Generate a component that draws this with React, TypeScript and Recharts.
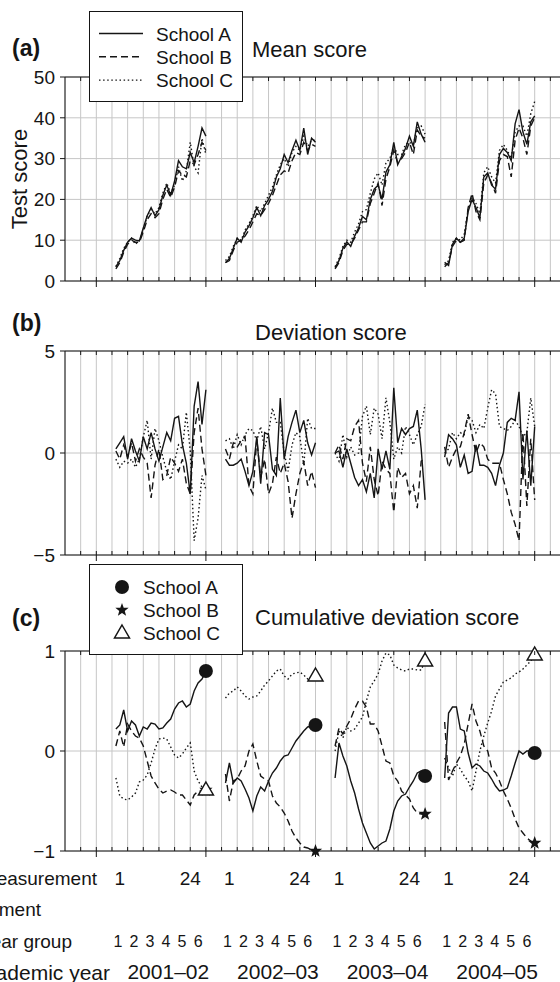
import React from 'react';
import { CartesianGrid, Label, Line, LineChart, XAxis, YAxis } from 'recharts';

const schools = ['School A', 'School B', 'School C'];
const academicYears = ['2001–02', '2002–03', '2003–04', '2004–05'];
const measurementLabels = ['1', '24'];
const yearGroups = ['1', '2', '3', '4', '5', '6'];

// (a) mean score, 24 measurements per academic year
const meanA = [
  3.5, 5, 7.5, 9.5, 10.5, 10, 9.8, 13, 16, 18, 16, 17.5, 21, 23.5, 21, 24.5, 29.5, 28, 27.5, 31.5, 29, 33, 37.5, 35.5,
  4.5, 5.5, 8, 10.5, 9.5, 12, 13.5, 15.5, 18, 16, 18.5, 20, 22, 25.5, 27.5, 31, 29, 32, 34.5, 32, 37.5, 31, 35, 34,
  3.3, 5, 8, 9.6, 8.5, 11, 13, 15.8, 15, 20, 22.5, 23.5, 20, 26.7, 28.5, 34, 28.5, 30.5, 32.5, 35.5, 33, 39, 36, 34,
  4.6, 3.8, 9, 10.5, 9.5, 10.5, 17, 20, 18, 15.5, 25.5, 26.5, 23.5, 22.5, 31, 32.5, 31.5, 29.5, 38.5, 42, 36.5, 33.5, 39, 40.5,
];
const meanB = [
  3, 4.5, 7, 9, 10, 9.5, 9.5, 12, 15, 16.5, 15.5, 16.5, 20, 22.5, 20.5, 23, 27, 26, 25.5, 29.5, 28.5, 31, 34, 32,
  4.5, 5, 7.5, 9.5, 10, 11, 12.5, 14.5, 16.5, 16, 17.5, 19, 21, 23.5, 26, 27, 26.5, 29.5, 31.5, 31, 34, 32, 33.5, 33,
  3, 4.5, 7.5, 9, 9, 10.5, 12.5, 14.5, 14.5, 19, 21.5, 24, 18.5, 25, 28, 32, 29, 30, 31.5, 34, 31, 37, 35.5, 35,
  3.5, 4.5, 8.5, 10, 9.5, 10, 18, 21.5, 17, 15, 24, 26, 24, 21.5, 29.5, 31, 30.5, 25.5, 34.5, 37.5, 35, 31, 38, 40,
];
const meanC = [
  3.5, 5.5, 8, 9.5, 10.5, 9, 10, 12.5, 16, 17.5, 16.5, 18, 21.5, 24, 21.5, 23.5, 28, 24.5, 27, 34, 28, 26.5, 35, 31,
  5, 6, 8.5, 10.5, 10, 12.5, 14, 16, 18.5, 17, 19, 21, 23, 26, 28.5, 30, 28, 31.5, 33, 32, 35.5, 33, 34.5, 34.5,
  3.5, 5.5, 8.5, 10, 9.5, 12, 14, 17, 17.5, 21.5, 25, 26.5, 23.5, 29, 30, 33, 31, 31, 33.5, 34, 33.5, 37.5, 38, 36,
  4, 5, 9.5, 10.5, 10, 11.5, 17.5, 20.5, 19, 16.5, 26.5, 28, 25.5, 24, 32, 33.5, 32, 30, 36.5, 38, 38, 35.5, 41, 44,
];

// (b) deviation score
const devA = [
  0.2, 0.5, 0.8, -0.3, 0.7, 0.1, -0.4, 0.8, 0.2, 1.0, 0.2, -0.4, 0.3, 1.0, 0.6, 1.7, 1.8, 0.4, -0.5, -2.0, 2.3, 3.5, 1.4, 3.1,
  -0.3, -0.6, -0.6, -0.5, -0.3, -0.9, -1.6, -0.9, 0.8, -1.5, 1.0, 0.9, -0.8, -1.1, 2.7, -0.3, 0.8, 1.5, 2.1, 1.0, 1.6, 0.5, -0.1, 0.5,
  0.0, 0.1, -0.7, 0.2, -0.5, -1.2, -1.6, -1.3, -1.9, -1.0, -2.2, 0.2, -0.8, 0.1, -0.8, 3.2, 0.5, 1.2, 0.9, 1.2, 1.3, 2.1, 0.2, -2.3,
  -0.2, 0.9, 0.7, 0.4, -0.7, -0.1, -1.0, -0.9, 0.4, -0.6, -0.6, -0.7, -1.0, -1.6, -0.6, 0.0, 1.5, 1.7, 1.6, 3.0, -1.3, 1.1, -1.6, 1.3,
];
const devB = [
  0.1, -0.3, 0.4, -0.2, 0.5, -0.4, 0.2, -0.2, -0.5, -2.2, -0.6, 0.2, -1.3, -1.1, -0.2, -0.5, -0.9, -0.3, -1.5, -2.0, 1.0, 2.2, 0.2, -1.1,
  0.2, -0.3, 0.5, 0.3, 0.6, 0.8, -1.6, -2.0, 0.7, -1.2, -0.3, -2.0, -1.5, -0.2, -1.0, -0.5, -1.4, -3.2, -2.0, -1.0, -0.4, -1.6, -0.9, -1.7,
  0.0, 0.4, -0.3, 0.7, 0.6, 1.3, 1.6, -0.5, -1.4, 0.3, -1.3, -2.1, -0.4, -0.8, -1.0, -2.9, -0.7, -1.2, -1.0, -2.0, -1.6, -2.7, -0.4, -0.3,
  0.3, -0.7, -0.2, 0.2, 0.3, 1.0, 1.9, 0.9, 0.0, 0.5, 0.3, -0.3, -0.5, -0.5, -0.5, -1.3, -2.0, -2.9, -3.5, -4.3, 1.0, -2.6, 0.7, -2.3,
];
const devC = [
  -0.3, -0.7, -0.4, -0.5, -0.3, -0.7, -0.3, 0.8, 1.6, -0.3, 1.2, 0.6, -0.2, -0.9, -1.3, -0.4, 0.4, 0.2, 2.0, 0.1, -4.3, -3.2, -1.1, -1.8,
  0.6, 0.7, 0.2, 0.9, 0.4, 0.9, 1.2, 1.1, 0.6, 1.3, 0.2, 1.0, 2.2, 1.5, 1.5, 0.0, -0.9, 0.4, 1.0, 0.8, -0.6, 1.7, 1.2, 1.2,
  0.0, -0.4, 0.9, -0.2, 0.3, -0.1, 0.0, 1.8, 2.3, 0.9, 2.2, 1.9, 0.7, 2.7, 1.5, -0.3, 0.3, 0.0, 1.3, 0.9, 0.4, 0.9, 1.3, 2.4,
  0.0, 0.2, 1.0, 0.7, 1.0, 0.9, 1.8, 1.6, 1.0, 1.4, 1.2, 2.2, 3.1, 2.9, 1.3, 1.2, 1.1, 1.3, 1.6, 1.3, 0.8, 1.0, 2.7, 1.3,
];

// (c) cumulative deviation score
const cumA = [
  0.22, 0.26, 0.41, 0.2, 0.3, 0.26, 0.15, 0.24, 0.22, 0.28, 0.27, 0.22, 0.23, 0.28, 0.32, 0.42, 0.48, 0.5, 0.44, 0.47, 0.6, 0.68, 0.72, 0.8,
  -0.32, -0.12, -0.32, -0.27, -0.3, -0.38, -0.47, -0.6, -0.45, -0.36, -0.4, -0.3, -0.22, -0.17, -0.1, -0.05, -0.04, 0.03, 0.1, 0.15, 0.2, 0.24, 0.25, 0.26,
  -0.27, 0.08, -0.05, -0.15, -0.3, -0.42, -0.58, -0.72, -0.82, -0.92, -0.98, -0.95, -0.92, -0.9, -0.78, -0.6, -0.5, -0.45, -0.43, -0.36, -0.3, -0.22, -0.2, -0.25,
  -0.27, 0.38, 0.44, 0.44, 0.22, 0.2, -0.02, -0.17, -0.13, -0.15, -0.2, -0.22, -0.28, -0.35, -0.4, -0.39, -0.37, -0.25, -0.12, 0.0, -0.03, 0.0, 0.0, -0.02,
];
const cumB = [
  0.05, 0.2, 0.04, 0.27, 0.2, 0.15, 0.13, 0.05, -0.1, -0.25, -0.32, -0.38, -0.42, -0.4, -0.39, -0.41, -0.44, -0.44, -0.49, -0.54, -0.44, -0.4, -0.4, -0.39,
  -0.23, -0.5, -0.3, -0.28, -0.2, -0.15, 0.0, 0.07, -0.1, -0.25, -0.28, -0.3, -0.45, -0.52, -0.56, -0.62, -0.7, -0.8, -0.87, -0.92, -0.96, -0.97, -0.99, -1.0,
  0.05, 0.23, 0.17, 0.25, 0.32, 0.42, 0.5, 0.5, 0.44, 0.27, 0.27, 0.2, 0.05, -0.1, -0.12, -0.25, -0.3, -0.4, -0.44, -0.48, -0.57, -0.62, -0.63, -0.63,
  0.29, -0.29, -0.2, -0.12, -0.05, 0.07, 0.27, 0.47, 0.3, 0.2, 0.05, 0.0, -0.17, -0.22, -0.3, -0.4, -0.48, -0.57, -0.68, -0.77, -0.82, -0.87, -0.9, -0.92,
];
const cumC = [
  -0.27, -0.45, -0.48, -0.49, -0.46, -0.42, -0.31, -0.29, -0.24, -0.12, 0.02, 0.12, 0.13, 0.12, 0.04, -0.04, -0.07, -0.03, 0.03, 0.08, -0.2, -0.3, -0.36, -0.39,
  0.53, 0.58, 0.6, 0.64, 0.6, 0.55, 0.52, 0.54, 0.55, 0.6, 0.66, 0.7, 0.75, 0.8, 0.82, 0.75, 0.72, 0.77, 0.78, 0.79, 0.76, 0.72, 0.74, 0.75,
  0.0, 0.2, 0.13, 0.24, 0.2, 0.22, 0.28, 0.34, 0.5, 0.64, 0.7, 0.77, 0.9, 0.98, 0.96, 0.86, 0.83, 0.81, 0.8, 0.82, 0.82, 0.81, 0.81, 0.9,
  -0.07, -0.17, -0.25, -0.13, -0.18, -0.25, -0.3, -0.4, -0.2, 0.0, 0.15, 0.28, 0.4, 0.55, 0.62, 0.69, 0.71, 0.73, 0.77, 0.79, 0.82, 0.86, 0.9, 0.96,
];

const INK = '#151515';
const GRID = '#c6c6c6';
const FONT = '"Liberation Sans", Arial, Helvetica, sans-serif';
const SLOTS = 28; // 24 measurements + gap per academic year
const X_DOMAIN: [number, number] = [-8, 120];
const gridTicks = Array.from({ length: 33 }, (_, i) => -8 + 4 * i);
const DASH = ['', '7 4', '1.5 2.6'];

type Row = { u: number; m: number; a: number | null; b: number | null; c: number | null };

const buildRows = (a: number[], b: number[], c: number[]): Row[] => {
  const rows: Row[] = [];
  academicYears.forEach((_, k) => {
    for (let m = 1; m <= 24; m++) {
      const i = k * 24 + m - 1;
      rows.push({ u: SLOTS * k + 4 + m, m, a: a[i], b: b[i], c: c[i] });
    }
    rows.push({ u: SLOTS * k + 30, m: 0, a: null, b: null, c: null });
  });
  return rows;
};

const meanRows = buildRows(meanA, meanB, meanC);
const devRows = buildRows(devA, devB, devC);
const cumRows = buildRows(cumA, cumB, cumC);

// bottom label rows
const measurementTicks = academicYears.flatMap((_, k) => [
  { u: SLOTS * k + 6, label: measurementLabels[0] },
  { u: SLOTS * k + 24, label: measurementLabels[1] },
]);
const yearGroupTicks = academicYears.flatMap((_, k) =>
  yearGroups.map((g, j) => ({ u: SLOTS * k + 5.5 + 4.1 * j, label: g }))
);
const academicTicks = academicYears.map((y, k) => ({ u: SLOTS * k + 18.4, label: y }));

const BottomTick = (props: any) => {
  const { x, y, payload } = props;
  const v = payload.value;
  if (v <= -8 || v >= 120) return <g />;
  const major = v % SLOTS === 0;
  return <line x1={x} x2={x} y1={y - 4} y2={major ? y + 6 : y} stroke={INK} strokeWidth={1} />;
};

const TopTick = (props: any) => {
  const { x, y, payload } = props;
  const v = payload.value;
  if (v <= -8 || v >= 120) return <g />;
  return <line x1={x} x2={x} y1={y} y2={y + 4} stroke={INK} strokeWidth={1} />;
};

const rowTick = (list: { u: number; label: string }[], fontSize: number) => (props: any) => {
  const hit = list.find((d) => Math.abs(d.u - props.payload.value) < 1e-6);
  return (
    <text x={props.x} y={props.y + 24} textAnchor="middle" fontSize={fontSize} fill={INK} fontFamily={FONT}>
      {hit ? hit.label : ''}
    </text>
  );
};

const Marker = ({ shape, x, y }: { shape: string; x: number; y: number }) => {
  if (shape === 'circle') return <circle cx={x} cy={y} r={7} fill={INK} />;
  if (shape === 'star') {
    const pts = Array.from({ length: 10 }, (_, i) => {
      const r = i % 2 === 0 ? 7 : 2.9;
      const ang = -Math.PI / 2 + (i * Math.PI) / 5;
      return `${x + r * Math.cos(ang)},${y + r * Math.sin(ang)}`;
    }).join(' ');
    return <polygon points={pts} fill={INK} />;
  }
  return (
    <polygon
      points={`${x},${y - 8} ${x + 7.5},${y + 5} ${x - 7.5},${y + 5}`}
      fill="#fff"
      stroke={INK}
      strokeWidth={1.5}
    />
  );
};

const endMarker = (shape: string) => (props: any) => {
  const { cx, cy, payload, index } = props;
  if (!payload || payload.m !== 24 || cx == null || cy == null) return <g key={`n${index}`} />;
  return <Marker key={`m${index}`} shape={shape} x={cx} y={cy} />;
};

const minus = (v: number) => (v < 0 ? `−${Math.abs(v)}` : `${v}`);

type PanelProps = {
  rows: Row[];
  top: number;
  domain: [number, number];
  yTicks: number[];
  yLabel?: string;
  markers?: boolean;
  footer?: boolean;
};

const PLOT_H = 200;
const MT = 14;

const rowAxis = (id: string, list: { u: number; label: string }[], fontSize: number, h: number) => (
  <XAxis
    key={id}
    xAxisId={id}
    type="number"
    dataKey="u"
    domain={X_DOMAIN}
    ticks={list.map((d) => d.u)}
    interval={0}
    tickSize={0}
    tickMargin={0}
    tickLine={false}
    axisLine={false}
    tick={rowTick(list, fontSize)}
    height={h}
  />
);

const Panel = ({ rows, top, domain, yTicks, yLabel, markers, footer }: PanelProps) => {
  const height = MT + 1 + PLOT_H + 10 + (footer ? 126 : 4);
  const keys = ['a', 'b', 'c'];
  const shapes = ['circle', 'star', 'triangle'];
  return (
    <div style={{ position: 'absolute', left: 0, top: top - MT - 1 }}>
      <LineChart width={571} height={height} data={rows} margin={{ top: MT, right: 5, bottom: 0, left: 0 }}>
        <CartesianGrid stroke={GRID} strokeWidth={1} />
        <XAxis
          xAxisId="top"
          orientation="top"
          type="number"
          dataKey="u"
          domain={X_DOMAIN}
          ticks={gridTicks}
          interval={0}
          tickSize={0}
          tickMargin={0}
          tickLine={false}
          tick={TopTick}
          axisLine={{ stroke: INK }}
          height={1}
        />
        <XAxis
          dataKey="u"
          type="number"
          domain={X_DOMAIN}
          ticks={gridTicks}
          interval={0}
          tickSize={0}
          tickMargin={0}
          tickLine={false}
          tick={BottomTick}
          axisLine={{ stroke: INK }}
          height={10}
        />
        {footer && rowAxis('r1', measurementTicks, 19, 31)}
        {footer && rowAxis('r2', [], 19, 31)}
        {footer && rowAxis('r3', yearGroupTicks, 16, 32)}
        {footer && rowAxis('r4', academicTicks, 21, 32)}
        <YAxis
          type="number"
          domain={domain}
          ticks={yTicks}
          interval={0}
          width={65}
          tickSize={5}
          tickMargin={5}
          tickFormatter={minus}
          tick={{ fontSize: 19, fill: INK, fontFamily: FONT }}
          axisLine={{ stroke: INK }}
          tickLine={{ stroke: INK }}
        >
          {yLabel && (
            <Label
              content={(p: any) => {
                const vb = p.viewBox || { x: 0, y: 0, height: PLOT_H };
                const cx = vb.x + 19;
                const cy = vb.y + vb.height / 2;
                return (
                  <text
                    x={cx}
                    y={cy}
                    transform={`rotate(-90 ${cx} ${cy})`}
                    textAnchor="middle"
                    dominantBaseline="central"
                    fontSize={22}
                    fill={INK}
                    fontFamily={FONT}
                  >
                    {yLabel}
                  </text>
                );
              }}
            />
          )}
        </YAxis>
        {keys.map((k, i) => (
          <Line
            key={k}
            name={schools[i]}
            dataKey={k}
            type="linear"
            stroke={INK}
            strokeWidth={1.4}
            strokeDasharray={DASH[i] || undefined}
            connectNulls={false}
            dot={markers ? endMarker(shapes[i]) : false}
            activeDot={false}
            isAnimationActive={false}
          />
        ))}
      </LineChart>
    </div>
  );
};

const LegendLines = ({ x, y }: { x: number; y: number }) => (
  <g>
    <rect x={x + 0.5} y={y + 0.5} width={153} height={90} fill="#fff" stroke={INK} strokeWidth={1} />
    {schools.map((s, i) => (
      <g key={s}>
        <line
          x1={x + 10}
          x2={x + 54}
          y1={y + 22.5 + 23.3 * i}
          y2={y + 22.5 + 23.3 * i}
          stroke={INK}
          strokeWidth={1.4}
          strokeDasharray={DASH[i] || undefined}
        />
        <text x={x + 67} y={y + 29.5 + 23.3 * i} fontSize={19} fill={INK}>
          {s}
        </text>
      </g>
    ))}
  </g>
);

const LegendMarkers = ({ x, y }: { x: number; y: number }) => (
  <g>
    <rect x={x + 0.5} y={y + 0.5} width={153} height={90} fill="#fff" stroke={INK} strokeWidth={1} />
    {schools.map((s, i) => (
      <g key={s}>
        <Marker shape={['circle', 'star', 'triangle'][i]} x={x + 33} y={y + 23 + 23 * i} />
        <text x={x + 54} y={y + 30 + 23 * i} fontSize={19} fill={INK}>
          {s}
        </text>
      </g>
    ))}
  </g>
);

export default function App() {
  return (
    <div
      style={{
        position: 'fixed',
        left: 0,
        top: 0,
        width: 560,
        height: 982,
        overflow: 'hidden',
        background: '#fff',
        fontFamily: FONT,
      }}
    >
      <Panel rows={meanRows} top={77} domain={[0, 50]} yTicks={[0, 10, 20, 30, 40, 50]} yLabel="Test score" />
      <Panel rows={devRows} top={351} domain={[-5, 5]} yTicks={[-5, 0, 5]} />
      <Panel rows={cumRows} top={651} domain={[-1, 1]} yTicks={[-1, 0, 1]} markers footer />
      <svg
        width={560}
        height={982}
        style={{ position: 'absolute', left: 0, top: 0, pointerEvents: 'none' }}
        fontFamily={FONT}
      >
        <text x={12} y={56} fontSize={23} fontWeight="bold" fill={INK}>(a)</text>
        <text x={252} y={56.5} fontSize={22} fill={INK}>Mean score</text>
        <text x={12} y={331} fontSize={23} fontWeight="bold" fill={INK}>(b)</text>
        <text x={255} y={340} fontSize={22} fill={INK}>Deviation score</text>
        <text x={12} y={626} fontSize={23} fontWeight="bold" fill={INK}>(c)</text>
        <text x={255} y={625} fontSize={22} fill={INK}>Cumulative deviation score</text>
        <LegendLines x={89} y={11} />
        <LegendMarkers x={89} y={564} />
        <text x={97} y={885} textAnchor="end" fontSize={19} fill={INK}>Measurement</text>
        <text x={41} y={916} textAnchor="end" fontSize={19} fill={INK}>Segment</text>
        <text x={72} y={948} textAnchor="end" fontSize={19} fill={INK}>Year group</text>
        <text x={110} y={980} textAnchor="end" fontSize={21} fill={INK}>Academic year</text>
      </svg>
    </div>
  );
}
